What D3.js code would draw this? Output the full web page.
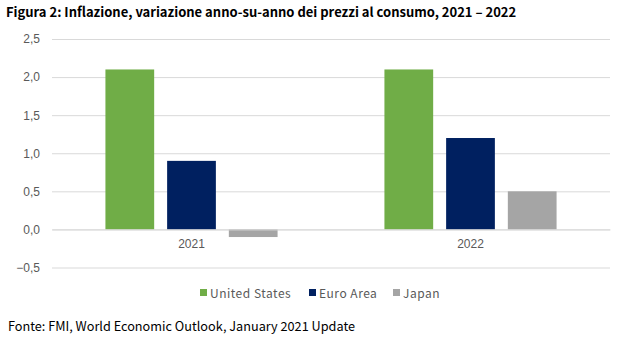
<!DOCTYPE html>
<html>
<head>
<meta charset="utf-8">
<script src="https://cdn.jsdelivr.net/npm/d3@7"></script>
<style>
  body { margin: 0; background: #fff; }
  svg { font-family: "Noto Sans CJK JP", "Noto Sans", sans-serif; }
  .title { font-size: 13px; font-weight: bold; fill: #000; }
  .tick text { fill: #595959; font-size: 12px; }
  .note { font-size: 12.7px; fill: #000; }
  .legend text { fill: #595959; font-size: 12px; letter-spacing: 0.5px; }
</style>
</head>
<body>
<div class="chart"></div>
<script>
var years = ["2021", "2022"];
var seriesNames = ["United States", "Euro Area", "Japan"];
var seriesColors = ["#70AD47", "#002060", "#A5A5A5"];
var unitedStates = [2.1, 2.1];
var euroArea = [0.9, 1.2];
var japan = [-0.1, 0.5];
var yTicks = [-0.5, 0, 0.5, 1, 1.5, 2, 2.5];

var seriesValues = [unitedStates, euroArea, japan];

var svgWidth = 619;
var svgHeight = 337;
var margin = { top: 39, right: 9, bottom: 70, left: 52 };
var width = svgWidth - margin.left - margin.right;
var height = svgHeight - margin.top - margin.bottom;

var svg = d3.select(".chart")
  .append("svg")
  .attr("width", svgWidth)
  .attr("height", svgHeight);

svg.append("text")
  .attr("class", "title")
  .attr("x", 6)
  .attr("y", 17)
  .text("Figura 2: Inflazione, variazione anno-su-anno dei prezzi al consumo, 2021 – 2022");

var chart = svg.append("g")
  .attr("transform", "translate(" + margin.left + "," + margin.top + ")");

var yScale = d3.scaleLinear()
  .domain([-0.5, 2.5])
  .range([height + 0.5, 0]);

var xScale = d3.scaleBand()
  .domain(years)
  .range([0, width]);

var innerScale = d3.scaleBand()
  .domain(seriesNames)
  .range([0, xScale.bandwidth() * 0.617])
  .paddingInner(0.21);

// gridlines with tick labels
var leftAxis = d3.axisLeft(yScale)
  .tickValues(yTicks)
  .tickSize(-width)
  .tickPadding(12)
  .tickFormat(function(d) { return d3.format(".1f")(d).replace(".", ","); });

var yAxisG = chart.append("g").call(leftAxis);
yAxisG.select(".domain").remove();
yAxisG.selectAll(".tick line").attr("stroke", "#d9d9d9");

var groups = chart.selectAll(".year")
  .data(years)
  .enter().append("g")
  .attr("class", "year")
  .attr("transform", function(d) {
    var offset = (xScale.bandwidth() - innerScale.range()[1]) / 2;
    return "translate(" + (xScale(d) + offset) + ",0)";
  });

groups.selectAll("rect")
  .data(function(d, i) {
    return seriesNames.map(function(name, s) {
      return { name: name, color: seriesColors[s], value: seriesValues[s][i] };
    });
  })
  .enter().append("rect")
  .attr("x", function(d) { return innerScale(d.name); })
  .attr("width", innerScale.bandwidth())
  .attr("y", function(d) { return yScale(Math.max(0, d.value)); })
  .attr("height", function(d) { return Math.abs(yScale(d.value) - yScale(0)); })
  .attr("fill", function(d) { return d.color; });

// zero line and category labels
var bottomAxis = d3.axisBottom(xScale).tickSize(0).tickPadding(10);
var xAxisG = chart.append("g")
  .attr("transform", "translate(0," + yScale(0) + ")")
  .call(bottomAxis);
xAxisG.select(".domain").attr("stroke", "#d9d9d9");

// legend
var legendX = [200, 309, 393];
var legend = svg.append("g").attr("class", "legend");
var item = legend.selectAll("g")
  .data(seriesNames)
  .enter().append("g")
  .attr("transform", function(d, i) { return "translate(" + legendX[i] + ",289)"; });
item.append("rect")
  .attr("width", 7)
  .attr("height", 7)
  .attr("fill", function(d, i) { return seriesColors[i]; });
item.append("text")
  .attr("x", 10)
  .attr("y", 8.5)
  .text(function(d) { return d; });

svg.append("text")
  .attr("class", "note")
  .attr("x", 8)
  .attr("y", 331)
  .text("Fonte: FMI, World Economic Outlook, January 2021 Update");
</script>
</body>
</html>
